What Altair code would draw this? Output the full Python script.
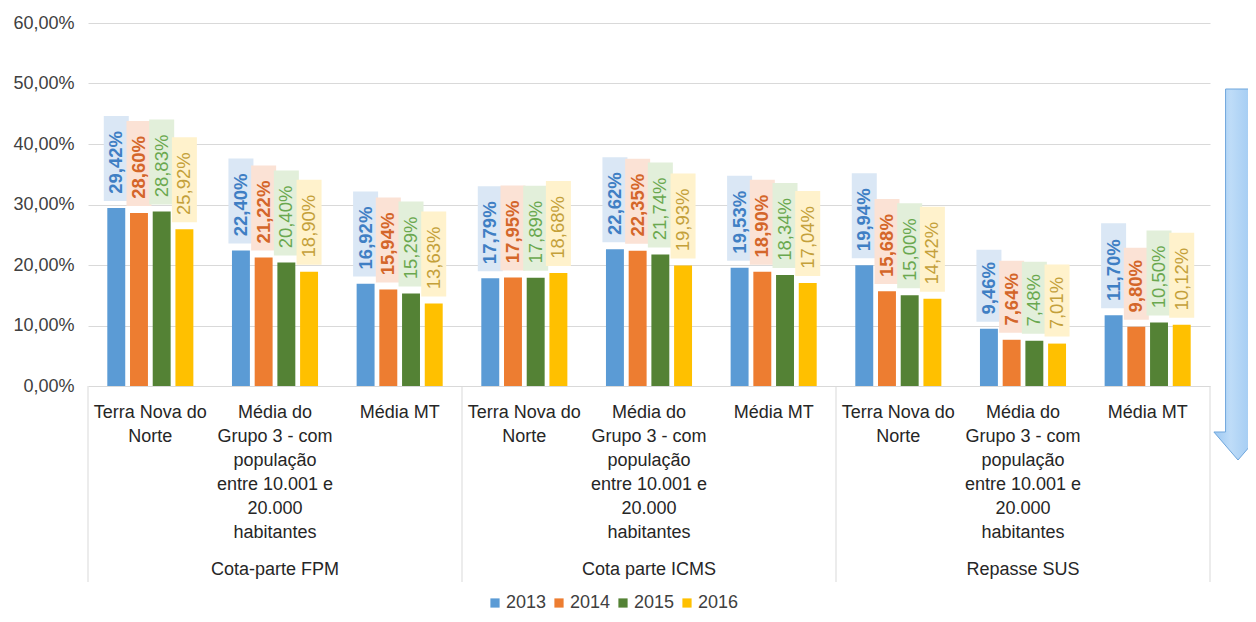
import altair as alt
import pandas as pd

groups = ["Cota-parte FPM", "Cota parte ICMS", "Repasse SUS"]
subs = ["Terra Nova do Norte",
        "Média do Grupo 3 - com população entre 10.001 e 20.000 habitantes",
        "Média MT"]
sub_lines = ["Terra Nova do\nNorte",
             "Média do\nGrupo 3 - com\npopulação\nentre 10.001 e\n20.000\nhabitantes",
             "Média MT"]
years = ["2013", "2014", "2015", "2016"]

# values per group -> per sub-category -> per year
fpm = [[29.42, 28.60, 28.83, 25.92], [22.40, 21.22, 20.40, 18.90], [16.92, 15.94, 15.29, 13.63]]
icms = [[17.79, 17.95, 17.89, 18.68], [22.62, 22.35, 21.74, 19.93], [19.53, 18.90, 18.34, 17.04]]
sus = [[19.94, 15.68, 15.00, 14.42], [9.46, 7.64, 7.48, 7.01], [11.70, 9.80, 10.50, 10.12]]
all_vals = [fpm, icms, sus]

bar_colors = ["#5B9BD5", "#ED7D31", "#548235", "#FFC000"]
text_colors = ["#3F7FC4", "#D4662A", "#6AA84F", "#C4A03A"]
box_colors = ["#DAE7F5", "#FBE2D5", "#E2EFDA", "#FFF2CC"]

cats = [f"{g}|{s}" for g in groups for s in subs]

rows = []
for gi, g in enumerate(groups):
    for si, s in enumerate(subs):
        for yi, y in enumerate(years):
            rows.append({"cat": f"{g}|{s}", "year": y, "v": all_vals[gi][si][yi],
                         "tc": text_colors[yi], "bc": box_colors[yi],
                         "bold": yi < 2})
df = pd.DataFrame(rows)

lab_df = pd.DataFrame([{"cat": f"{g}|{s}", "lab": sub_lines[si]}
                       for g in groups for si, s in enumerate(subs)])
grp_df = pd.DataFrame([{"cat": f"{g}|{subs[1]}", "lab": g} for g in groups])
sep_df = pd.DataFrame({"cat": [f"{g}|{subs[0]}" for g in groups]})
end_df = pd.DataFrame({"cat": [cats[-1]]})

W, H = 1122, 363
FONT = "Liberation Sans, Arial, sans-serif"

xscale = alt.Scale(domain=cats, paddingInner=0, paddingOuter=0)
xoff = alt.XOffset("year:N", scale=alt.Scale(domain=years, paddingInner=0.21, paddingOuter=0.85))
yscale = alt.Scale(domain=[0, 60], nice=False)

base = alt.Chart(df)

bars = base.mark_bar().encode(
    x=alt.X("cat:N", scale=xscale, axis=None, sort=cats),
    xOffset=xoff,
    y=alt.Y("v:Q", scale=yscale, title=None,
            axis=alt.Axis(values=[0, 10, 20, 30, 40, 50, 60],
                          labelExpr="replace(format(datum.value, '.2f'), '.', ',') + '%'",
                          grid=True, gridColor="#D9D9D9", domain=False, ticks=False,
                          labelFontSize=18, labelFont=FONT, labelColor="#404040",
                          labelPadding=14)),
    color=alt.Color("year:N", scale=alt.Scale(domain=years, range=bar_colors),
                    legend=alt.Legend(orient="none", legendX=398, legendY=571,
                                      direction="horizontal", title=None,
                                      symbolType="square", symbolSize=85,
                                      symbolStrokeWidth=0, labelFontSize=18,
                                      labelFont=FONT, labelColor="#404040",
                                      columnPadding=3, labelOffset=2)),
)

lab_calc = base.transform_calculate(
    lab="replace(format(datum.v, '.2f'), '.', ',') + '%'"
).transform_calculate(
    lo="datum.v + 1.16",
    hi="datum.v + 1.16 + (length(datum.lab) * 13 + 7) / 6.05",
    ty="datum.v + 2.35",
)

boxes = lab_calc.mark_bar(width=25).encode(
    x=alt.X("cat:N", scale=xscale, axis=None, sort=cats),
    xOffset=xoff,
    y=alt.Y("lo:Q", scale=yscale),
    y2="hi:Q",
    fill=alt.Fill("bc:N", scale=None),
)

def label_layer(bold):
    return lab_calc.transform_filter(
        "datum.bold" if bold else "!datum.bold"
    ).mark_text(angle=270, align="left", baseline="middle", fontSize=18.5,
                font=FONT, fontWeight="bold" if bold else "normal").encode(
        x=alt.X("cat:N", scale=xscale, axis=None, sort=cats),
        xOffset=xoff,
        y=alt.Y("ty:Q", scale=yscale),
        text="lab:N",
        color=alt.Color("tc:N", scale=None),
    )

sub_text = alt.Chart(lab_df).mark_text(
    baseline="top", align="center", fontSize=18, font=FONT, color="#262626",
    lineBreak="\n", lineHeight=24,
).encode(
    x=alt.X("cat:N", scale=xscale, axis=None, sort=cats),
    y=alt.value(H + 18),
    text="lab:N",
)

grp_text = alt.Chart(grp_df).mark_text(
    baseline="middle", align="center", fontSize=18, font=FONT, color="#262626",
).encode(
    x=alt.X("cat:N", scale=xscale, axis=None, sort=cats),
    y=alt.value(H + 184),
    text="lab:N",
)

seps = alt.Chart(sep_df).mark_rule(color="#D9D9D9", strokeWidth=1).encode(
    x=alt.X("cat:N", scale=xscale, axis=None, sort=cats, bandPosition=0),
    y=alt.value(H), y2=alt.value(H + 196),
)
end_sep = alt.Chart(end_df).mark_rule(color="#D9D9D9", strokeWidth=1).encode(
    x=alt.X("cat:N", scale=xscale, axis=None, sort=cats, bandPosition=1),
    y=alt.value(H), y2=alt.value(H + 196),
)

arrow_path = ("M -0.067 -1 L 0.067 -1 L 0.067 0.849 L 0.13 0.849 L 0 1 "
              "L -0.13 0.849 L -0.067 0.849 Z")
arrow = alt.Chart(pd.DataFrame({"a": [0]})).mark_point(
    shape=arrow_path, filled=True, size=371 * 371, opacity=1,
    fill={"gradient": "linear", "x1": 0, "x2": 1, "y1": 0, "y2": 0,
          "stops": [{"offset": 0, "color": "#9CC8F2"},
                    {"offset": 0.35, "color": "#BEDCF8"},
                    {"offset": 1, "color": "#94C3F0"}]},
    stroke="#6FA6DC", strokeWidth=1,
).encode(x=alt.value(1150), y=alt.value(251.5))

chart = alt.layer(
    seps, end_sep, bars, boxes, label_layer(True), label_layer(False),
    sub_text, grp_text, arrow,
).properties(
    width=W, height=H,
    autosize="none",
    padding={"left": 80, "top": 15, "right": 38, "bottom": 228},
    background="white",
).configure_view(stroke=None)

chart.save("out.html", embed_options={"renderer": "svg", "actions": False})
